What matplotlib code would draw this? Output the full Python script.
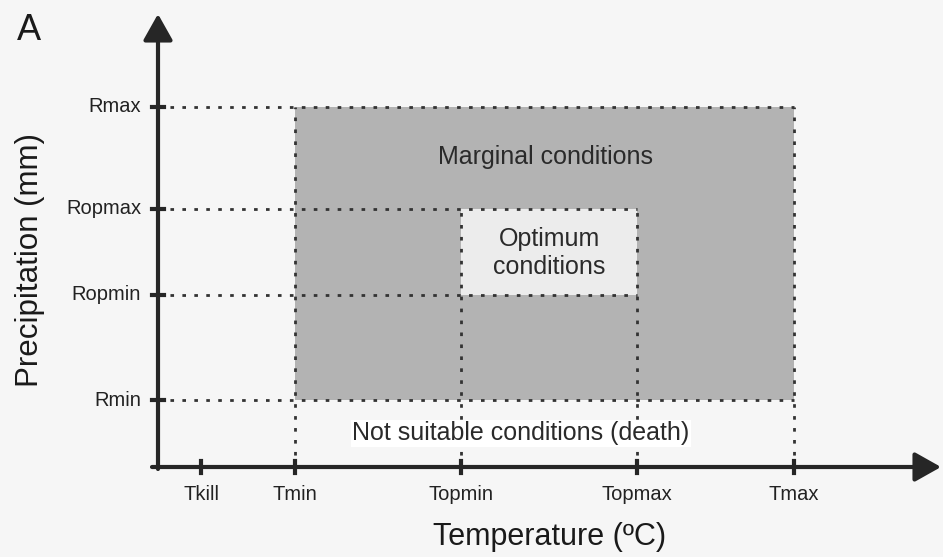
import matplotlib.pyplot as plt
from matplotlib.patches import Rectangle

plt.rcParams['font.family'] = ['Liberation Sans', 'DejaVu Sans']

# threshold positions (nominal units along each axis)
t_labels = ['Tkill', 'Tmin', 'Topmin', 'Topmax', 'Tmax']
t_values = [0.43, 1.37, 3.03, 4.79, 6.36]
r_labels = ['Rmin', 'Ropmin', 'Ropmax', 'Rmax']
r_values = [0.67, 1.72, 2.58, 3.60]

X_END = 7.83
Y_END = 4.53

INK = '#262626'
DOT = '#333333'
dotted = (0, (1.3, 3.0))

fig = plt.figure(figsize=(9.43, 5.57), dpi=100)
fig.patch.set_facecolor('#f6f6f6')
ax = fig.add_axes([0, 0, 1, 1])
ax.set_xlim(-1.58, 7.85)
ax.set_ylim(-0.90, 4.67)
ax.axis('off')

tkill, tmin, topmin, topmax, tmax = t_values
rmin, ropmin, ropmax, rmax = r_values

# zones
ax.add_patch(Rectangle((tmin, rmin), tmax - tmin, rmax - rmin,
                       facecolor='#b3b3b3', edgecolor='none', zorder=1))
ax.add_patch(Rectangle((topmin, ropmin), topmax - topmin, ropmax - ropmin,
                       facecolor='#ececec', edgecolor='none', zorder=2))

# dotted guide lines
for r in [rmin, rmax]:
    ax.plot([0, tmax], [r, r], color=DOT, lw=2, ls=dotted, zorder=3)
for r in [ropmin, ropmax]:
    ax.plot([0, topmax], [r, r], color=DOT, lw=2, ls=dotted, zorder=3)
for t in [tmin, tmax]:
    ax.plot([t, t], [0, rmax], color=DOT, lw=2, ls=dotted, zorder=3)
for t in [topmin, topmax]:
    ax.plot([t, t], [0, ropmax], color=DOT, lw=2, ls=dotted, zorder=3)

# axes with arrows
arrow = dict(arrowstyle='-|>,head_length=0.8,head_width=0.45', lw=3,
             color=INK, shrinkA=0, shrinkB=0, mutation_scale=20)
ax.annotate('', xy=(X_END, 0), xytext=(-0.06, 0), arrowprops=arrow, zorder=5)
ax.annotate('', xy=(0, Y_END), xytext=(0, -0.02), arrowprops=arrow, zorder=5)

# ticks
for t, lab in zip(t_values, t_labels):
    ax.plot([t, t], [-0.06, 0.06], color=INK, lw=3, zorder=6)
    ax.text(t, -0.28, lab, ha='center', va='center', fontsize=14.5, color='#222222')
for r, lab in zip(r_values, r_labels):
    ax.plot([-0.06, 0.06], [r, r], color=INK, lw=3, zorder=6)
    ax.text(-0.17, r, lab, ha='right', va='center', fontsize=14.5, color='#222222')

# zone labels
ax.text(3.87, 3.10, 'Marginal conditions', ha='center', va='center',
        fontsize=18, color='#2a2a2a', zorder=4)
ax.text(3.91, 2.14, 'Optimum\nconditions', ha='center', va='center',
        fontsize=18, color='#2a2a2a', linespacing=1.2, zorder=4)
ax.text(3.63, 0.34, 'Not suitable conditions (death)', ha='center', va='center',
        fontsize=18, color='#2a2a2a', zorder=4,
        bbox=dict(facecolor='white', edgecolor='none', pad=1))

# axis titles and panel letter
ax.text(3.92, -0.70, 'Temperature (ºC)', ha='center', va='center',
        fontsize=22, color='#1a1a1a')
ax.text(-1.28, 2.07, 'Precipitation (mm)', ha='center', va='center',
        fontsize=22.5, color='#1a1a1a', rotation=90)
ax.text(-1.41, 4.37, 'A', ha='left', va='center', fontsize=26, color='#1a1a1a')

fig.savefig('out.png', dpi=100, facecolor=fig.get_facecolor())
